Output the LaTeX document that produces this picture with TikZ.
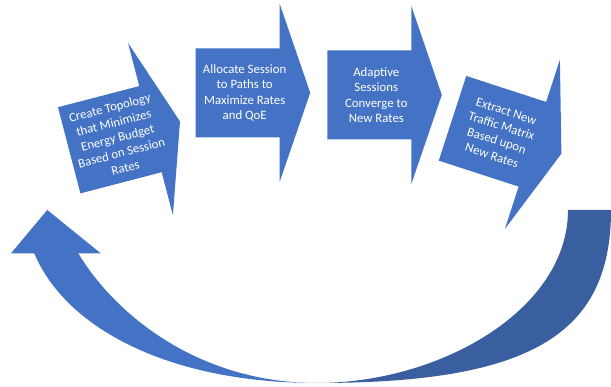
\documentclass[tikz,border=0pt]{standalone}
\usepackage{fontspec}
\setmainfont{Carlito}
\definecolor{ablue}{HTML}{4472C4}
\definecolor{dblue}{HTML}{3A5FA0}
\tikzset{
  stepshape/.style={fill=ablue, draw=none},
  steptext/.style={text=white, font=\fontsize{12.8}{15.5}\selectfont, align=center, inner sep=0pt},
}
\begin{document}
\begin{tikzpicture}[x=1pt,y=-1pt]
\useasboundingbox (0,0) rectangle (611,387);
% curved return arrow
\fill[dblue] (568,210) -- (611,210) .. controls (611,335) and (530,383) .. (317,383)
  .. controls (440,383) and (568,310) .. (568,210) -- cycle;
\fill[ablue] (47.3,210) -- (100.7,253.3) -- (78.3,253.3)
  .. controls (114,313) and (197,383) .. (317,383)
  .. controls (167,383) and (65,327) .. (34.3,253.3) -- (11,253.3) -- cycle;
% step 1
\begin{scope}[shift={(69.2,150.3)}, rotate=14.6]
  \fill[stepshape] (0,-44.5) -- (84,-44.5) -- (84,-89) -- (114.5,0) -- (84,89) -- (84,44.5) -- (0,44.5) -- cycle;
  \node[steptext, rotate=14.6] (s1) at (50,0) {Create Topology\\that Minimizes\\Energy Budget\\Based on Session\\Rates};
\end{scope}
% step 2
\begin{scope}[shift={(195.7,92.8)}]
  \fill[stepshape] (0,-44.5) -- (84,-44.5) -- (84,-89) -- (114.5,0) -- (84,89) -- (84,44.5) -- (0,44.5) -- cycle;
  \node[steptext] (s2) at (49,0) {Allocate Session\\to Paths to\\Maximize Rates\\and QoE};
\end{scope}
% step 3
\begin{scope}[shift={(327.3,95)}]
  \fill[stepshape] (0,-44.5) -- (84,-44.5) -- (84,-89) -- (114.5,0) -- (84,89) -- (84,44.5) -- (0,44.5) -- cycle;
  \node[steptext] (s3) at (49,0) {Adaptive\\Sessions\\Converge to\\New Rates};
\end{scope}
% step 4
\begin{scope}[shift={(452.5,118.3)}, rotate=-18]
  \fill[stepshape] (0,-44.5) -- (84,-44.5) -- (84,-89) -- (114.5,0) -- (84,89) -- (84,44.5) -- (0,44.5) -- cycle;
  \node[steptext, rotate=-18] (s4) at (49,0) {Extract New\\Traffic Matrix\\Based upon\\New Rates};
\end{scope}
\end{tikzpicture}
\end{document}
